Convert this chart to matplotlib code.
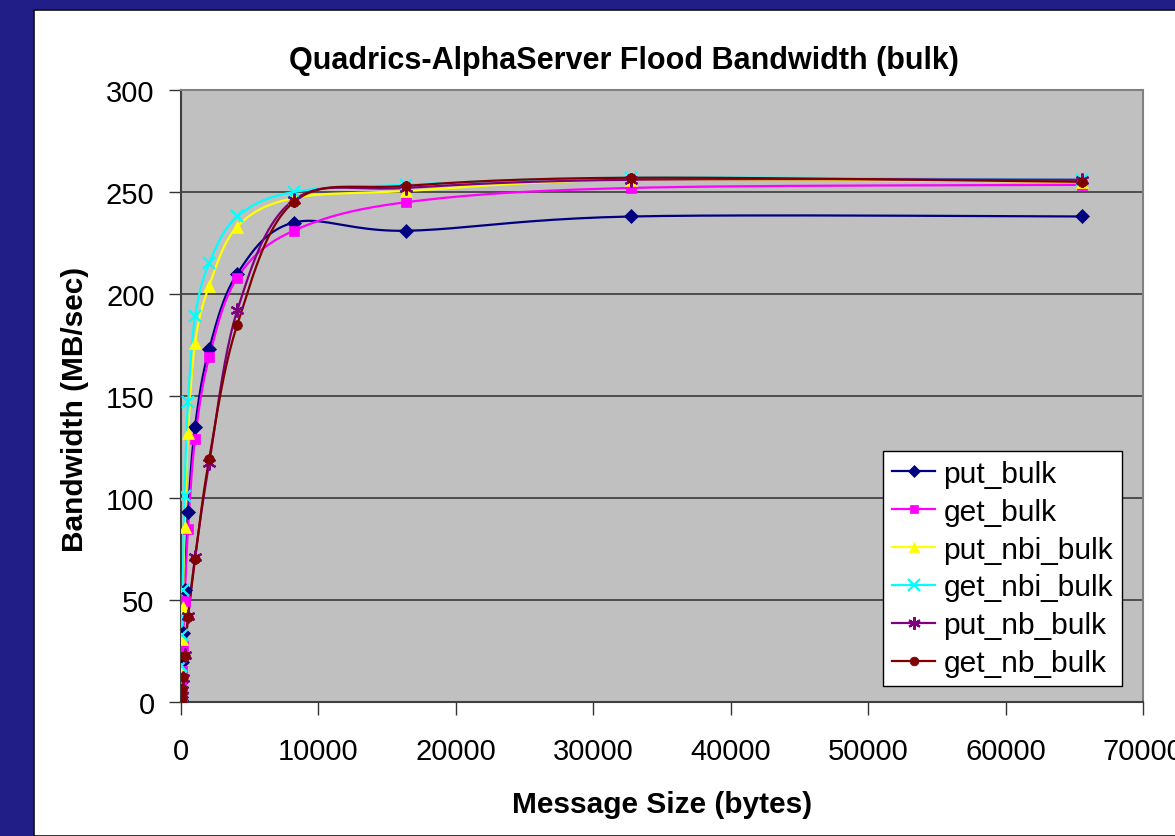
import numpy as np
import matplotlib
matplotlib.use("Agg")
import matplotlib.pyplot as plt
from matplotlib.patches import Rectangle

plt.rcParams['font.family'] = ['Liberation Sans', 'DejaVu Sans']

# message sizes (bytes)
sizes = [4, 8, 16, 32, 64, 128, 256, 512, 1024, 2048, 4096, 8192, 16384, 32768, 65536]

# bandwidth in MB/sec
put_bulk = [1.2, 2.5, 5, 10, 19.5, 34, 55, 93, 135, 173, 210, 235, 231, 238, 238]
get_bulk = [1, 2, 4, 8.8, 15, 27.5, 49.5, 85, 129, 169, 208, 231, 245, 252, 253.5]
put_nbi_bulk = [2, 4, 8, 16, 31, 46.5, 86, 132, 176, 204, 233, 247, 250.5, 256, 255]
get_nbi_bulk = [2.3, 4.5, 9, 17.6, 33, 55, 101, 147, 189, 215, 238, 250, 253.5, 257, 256]
put_nb_bulk = [0.3, 0.7, 1.5, 3, 6, 12, 23, 42, 71, 117, 192, 246, 252, 256, 256]
get_nb_bulk = [0.4, 0.8, 1.6, 3.2, 6.4, 12.5, 22.5, 41.5, 70, 119, 185, 245, 253, 257, 255]

series_names = ['put_bulk', 'get_bulk', 'put_nbi_bulk', 'get_nbi_bulk', 'put_nb_bulk', 'get_nb_bulk']
colors = ['#000080', '#FF00FF', '#FFFF00', '#00FFFF', '#800080', '#800000']
markers = ['D', 's', '^', 'x', (6, 2, 0), 'o']
msizes = [7, 7, 8, 9, 10, 7]

X_MAX, Y_MAX = 70000, 300
AX_W_PX, AX_H_PX = 962, 612


def smooth_line(x, y, n=24):
    # Excel-like smoothed line (Catmull-Rom bezier in pixel space)
    sx, sy = AX_W_PX / X_MAX, AX_H_PX / Y_MAX
    p = np.column_stack([np.asarray(x, float) * sx, np.asarray(y, float) * sy])
    out = [p[0]]
    t = np.linspace(0, 1, n)[1:, None]
    for i in range(len(p) - 1):
        p0 = p[i - 1] if i > 0 else p[i]
        p1, p2 = p[i], p[i + 1]
        p3 = p[i + 2] if i + 2 < len(p) else p[i + 1]
        c1 = p1 + (p2 - p0) / 6
        c2 = p2 - (p3 - p1) / 6
        seg = ((1 - t) ** 3) * p1 + 3 * ((1 - t) ** 2) * t * c1 + 3 * (1 - t) * t ** 2 * c2 + t ** 3 * p2
        out.extend(seg)
    out = np.array(out)
    return out[:, 0] / sx, out[:, 1] / sy


fig = plt.figure(figsize=(11.75, 8.37), dpi=100)
fig.patch.set_facecolor('#221E88')
fig.patches.append(Rectangle((34 / 1175, 0), 1, 1 - 11 / 837, transform=fig.transFigure,
                             facecolor='white', edgecolor='#111111', linewidth=1.2, zorder=-10))

ax = fig.add_axes([181 / 1175, (837 - 703) / 837, AX_W_PX / 1175, AX_H_PX / 837])
ax.set_facecolor('#C0C0C0')

all_series = [put_bulk, get_bulk, put_nbi_bulk, get_nbi_bulk, put_nb_bulk, get_nb_bulk]
for name, vals, c, m, ms in zip(series_names, all_series, colors, markers, msizes):
    xs, ys = smooth_line(sizes, vals)
    ax.plot(xs, ys, color=c, linewidth=1.6, zorder=3)
    ax.plot(sizes, vals, linestyle='none', marker=m, markersize=ms, color=c,
            markeredgecolor=c, markeredgewidth=1.6 if m in ('x', (6, 2, 0)) else 0.5, zorder=4)
    ax.plot([], [], color=c, linewidth=1.6, marker=m, markersize=ms * 0.9,
            markeredgewidth=1.6 if m in ('x', (6, 2, 0)) else 0.5, label=name)

ax.set_xlim(0, X_MAX)
ax.set_ylim(0, Y_MAX)
ax.set_xticks(range(0, 70001, 10000))
ax.set_yticks(range(0, 301, 50))
ax.tick_params(axis='both', labelsize=21, length=9, width=1, color='#333333', pad=4)
ax.tick_params(axis='x', pad=16)
ax.tick_params(axis='y', pad=10)
ax.grid(axis='y', color='#3a3a3a', linewidth=1.2, zorder=1)
ax.set_axisbelow(True)
for side in ['top', 'right', 'bottom', 'left']:
    ax.spines[side].set_color('#808080')
    ax.spines[side].set_linewidth(1.5)
ax.spines['left'].set_color('#404040')
ax.spines['bottom'].set_color('#404040')

ax.set_title('Quadrics-AlphaServer Flood Bandwidth (bulk)', fontsize=22, fontweight='bold',
             pad=16, x=0.4605)
ax.set_xlabel('Message Size (bytes)', fontsize=21.5, fontweight='bold', labelpad=18)
ax.set_ylabel('Bandwidth (MB/sec)', fontsize=21.5, fontweight='bold', va='center')
ax.yaxis.set_label_coords(-0.110, 0.479)

leg = ax.legend(loc='lower right', bbox_to_anchor=(0.978, 0.026), fontsize=21.5, frameon=True,
                fancybox=False, framealpha=1, edgecolor='black', handlelength=1.45,
                handletextpad=0.27, labelspacing=0.33, borderpad=0.3, borderaxespad=0)
leg.get_frame().set_linewidth(1.0)

fig.savefig('out.png', dpi=100, facecolor=fig.get_facecolor())
